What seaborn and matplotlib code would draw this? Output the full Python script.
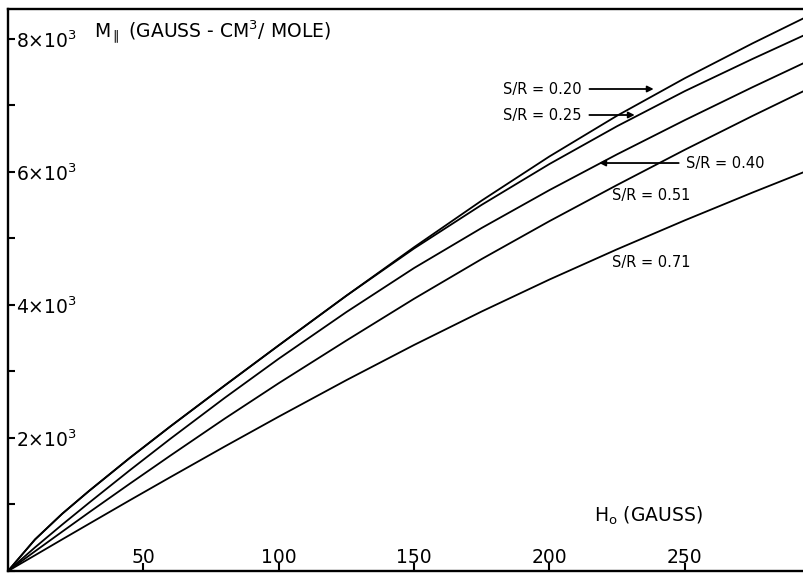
import numpy as np
import pandas as pd
import matplotlib
matplotlib.use("Agg")
import matplotlib.pyplot as plt
import seaborn as sns

# Applied field H0 (gauss) at which each magnetization curve is sampled
field = [0, 10, 20, 30, 45, 60, 80, 100, 125, 150, 175, 200, 225, 250, 275, 300]

# Magnetization M (gauss-cm^3/mole) for each S/R ratio
m_020 = [0, 475, 860, 1206, 1701, 2175, 2788, 3393, 4140, 4869, 5571, 6234, 6847, 7410, 7934, 8434]
m_025 = [0, 475, 860, 1206, 1701, 2175, 2788, 3393, 4140, 4850, 5507, 6120, 6689, 7216, 7700, 8167]
m_040 = [0, 356, 697, 1028, 1515, 1989, 2602, 3192, 3894, 4556, 5159, 5728, 6266, 6780, 7275, 7754]
m_051 = [0, 297, 591, 883, 1313, 1736, 2290, 2824, 3466, 4094, 4692, 5261, 5805, 6334, 6843, 7337]
m_071 = [0, 237, 475, 711, 1064, 1412, 1871, 2321, 2870, 3399, 3903, 4383, 4838, 5273, 5691, 6096]

ratios = ["0.20", "0.25", "0.40", "0.51", "0.71"]
curves = [m_020, m_025, m_040, m_051, m_071]

x_ticks = [50, 100, 150, 200, 250]
x_tick_labels = ["50", "100", "150", "200", "250"]
y_major = [0, 2000, 4000, 6000, 8000]
y_major_labels = ["", r"2×10$^{3}$", r"4×10$^{3}$", r"6×10$^{3}$", r"8×10$^{3}$"]
y_minor = [1000, 3000, 5000, 7000]

df = pd.DataFrame({
    "H": np.tile(field, len(ratios)),
    "M": np.concatenate(curves),
    "SR": np.repeat(ratios, len(field)),
})

sns.set_style("white")
plt.rcParams["font.family"] = ["DejaVu Sans"]
plt.rcParams["mathtext.fontset"] = "dejavusans"
plt.rcParams["text.color"] = "black"

W, H = 804, 575
fig = plt.figure(figsize=(W / 100, H / 100), dpi=100)
fig.patch.set_facecolor("white")
ax = fig.add_axes([8 / W, 4 / H, 1 - 8 / W + 0.01, 562 / H])
ax.set_facecolor("white")

sns.lineplot(data=df, x="H", y="M", hue="SR", palette=["black"] * len(ratios),
             estimator=None, sort=False, legend=False, linewidth=1.3, ax=ax)

ax.set_xlim(0, 297)
ax.set_ylim(0, 8451)
ax.set_xlabel("")
ax.set_ylabel("")

for side in ["left", "bottom", "top"]:
    ax.spines[side].set_visible(True)
    ax.spines[side].set_color("black")
    ax.spines[side].set_linewidth(1.7)
ax.spines["right"].set_visible(False)

ax.set_xticks(x_ticks, labels=x_tick_labels)
ax.set_yticks(y_major, labels=y_major_labels)
ax.set_yticks(y_minor, minor=True)

ax.tick_params(axis="x", which="major", direction="in", length=6, width=1.5,
               pad=-5.5, labelsize=13.5, colors="black", bottom=True)
ax.tick_params(axis="y", which="both", direction="in", length=5, width=1.5,
               pad=-6, labelsize=13.5, colors="black", left=True)
plt.setp(ax.get_xticklabels(), va="baseline")
plt.setp(ax.get_yticklabels(), ha="left")

# Axis titles written inside the frame
ax.text(31.7, 8105, r"M$_{\parallel}$ (GAUSS - CM$^{3}$/ MOLE)", ha="left",
        va="center", fontsize=13.5, color="black")
ax.text(216.4, 827, r"H$_{\mathrm{o}}$ (GAUSS)", ha="left", va="center",
        fontsize=13.5, color="black")

# Curve labels
arrow = dict(arrowstyle="-|>", color="black", lw=1.3, mutation_scale=9,
             shrinkA=3, shrinkB=0)
label_kw = dict(va="center", fontsize=10.5, color="black")
ax.annotate("S/R = 0.20", xy=(238.5, 7248), xytext=(183, 7248), ha="left",
            arrowprops=arrow, **label_kw)
ax.annotate("S/R = 0.25", xy=(231.5, 6857), xytext=(183, 6857), ha="left",
            arrowprops=arrow, **label_kw)
ax.annotate("S/R = 0.40", xy=(218.4, 6135), xytext=(250.5, 6135), ha="left",
            arrowprops=arrow, **label_kw)
ax.text(237.5, 5654, "S/R = 0.51", ha="center", **label_kw)
ax.text(237.5, 4632, "S/R = 0.71", ha="center", **label_kw)

fig.savefig("out.png", dpi=100, facecolor="white")
